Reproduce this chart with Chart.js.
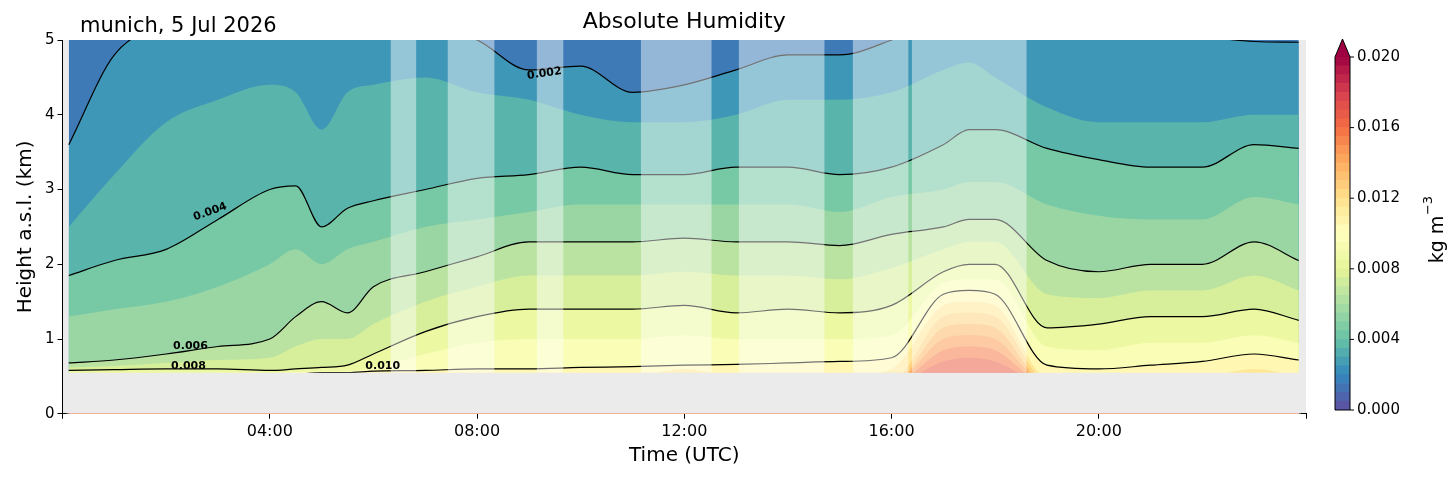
<!DOCTYPE html>
<html><head><meta charset="utf-8">
<script src="https://cdn.jsdelivr.net/npm/chart.js@4"></script>
<style>body{margin:0;background:#fff;font-family:"DejaVu Sans";}#a{position:absolute;left:0;top:0;width:1322px;height:478px}#b{position:absolute;left:1322px;top:0;width:132px;height:478px}</style>
</head><body><div id="a"><canvas id="c1"></canvas></div><div id="b"><canvas id="c2"></canvas></div>
<script>
const times = [0.12,1,2,3,4,4.5,5,5.5,6,7,8,9,10,11,12,13,14,15,16,17,17.5,18,19,20,21,22,23,23.86];
const L002 = [3.6,4.8,5.2,5.3,5.4,5.4,5.4,5.4,5.3,5.2,5.0,4.6,4.65,4.3,4.4,4.6,4.8,4.8,5.0,5.3,5.4,5.3,5.2,5.2,5.15,5.05,4.98,4.97];
const L003 = [2.5,3.2,3.9,4.2,4.4,4.3,3.8,4.3,4.4,4.5,4.3,4.2,4.0,3.9,3.9,4.0,4.2,4.2,4.3,4.6,4.7,4.5,4.1,3.9,3.9,3.9,4.0,4.0];
const L004 = [1.85,2.05,2.2,2.6,3.0,3.05,2.5,2.75,2.85,3.0,3.15,3.2,3.3,3.2,3.2,3.3,3.3,3.2,3.3,3.6,3.8,3.8,3.55,3.4,3.3,3.3,3.6,3.55];
const L005 = [1.3,1.4,1.5,1.7,2.0,2.2,2.0,2.2,2.3,2.5,2.6,2.7,2.8,2.8,2.8,2.8,2.8,2.7,2.9,3.0,3.1,3.1,2.8,2.65,2.6,2.6,2.9,2.8];
const L006 = [0.68,0.72,0.8,0.9,1.0,1.3,1.5,1.35,1.7,1.9,2.1,2.3,2.3,2.3,2.35,2.3,2.3,2.25,2.4,2.5,2.6,2.6,2.05,1.9,2.0,2.0,2.3,2.05];
const L007 = [0.62,0.64,0.68,0.72,0.75,0.9,1.0,1.0,1.2,1.5,1.7,1.85,1.85,1.85,1.9,1.85,1.85,1.8,1.95,2.2,2.3,2.3,1.6,1.55,1.65,1.65,1.85,1.65];
const L008 = [0.58,0.59,0.6,0.6,0.58,0.6,0.62,0.65,0.8,1.1,1.3,1.4,1.4,1.4,1.45,1.35,1.4,1.35,1.45,1.9,2.0,2.0,1.15,1.2,1.3,1.3,1.4,1.25];
const L009 = [0.5,0.5,0.52,0.55,0.55,0.56,0.57,0.57,0.62,0.8,0.95,1.0,1.0,1.0,1.05,1.0,1.0,1.0,1.05,1.75,1.8,1.8,0.9,0.85,0.95,0.95,1.05,0.95];
const L010 = [0.45,0.45,0.45,0.5,0.52,0.53,0.55,0.55,0.57,0.58,0.6,0.6,0.62,0.63,0.65,0.66,0.68,0.7,0.75,1.6,1.65,1.6,0.65,0.6,0.65,0.7,0.8,0.72];
const L011 = [0.5,0.5,0.5,0.5,0.5,0.5,0.5,0.5,0.5,0.5,0.5,0.5,0.5,0.5,0.6,0.5,0.5,0.5,0.6,1.45,1.5,1.45,0.5,0.5,0.5,0.5,0.6,0.5];
const L012 = [0.45,0.45,0.45,0.45,0.45,0.45,0.45,0.45,0.45,0.45,0.45,0.45,0.45,0.45,0.45,0.45,0.45,0.45,0.45,1.3,1.35,1.3,0.45,0.45,0.45,0.45,0.45,0.45];
const L013 = [0.4,0.4,0.4,0.4,0.4,0.4,0.4,0.4,0.4,0.4,0.4,0.4,0.4,0.4,0.4,0.4,0.4,0.4,0.4,1.15,1.2,1.15,0.4,0.4,0.4,0.4,0.4,0.4];
const L014 = [0.4,0.4,0.4,0.4,0.4,0.4,0.4,0.4,0.4,0.4,0.4,0.4,0.4,0.4,0.4,0.4,0.4,0.4,0.4,1.0,1.05,1.0,0.4,0.4,0.4,0.4,0.4,0.4];
const L015 = [0.4,0.4,0.4,0.4,0.4,0.4,0.4,0.4,0.4,0.4,0.4,0.4,0.4,0.4,0.4,0.4,0.4,0.4,0.4,0.85,0.9,0.85,0.4,0.4,0.4,0.4,0.4,0.4];
const L016 = [0.4,0.4,0.4,0.4,0.4,0.4,0.4,0.4,0.4,0.4,0.4,0.4,0.4,0.4,0.4,0.4,0.4,0.4,0.4,0.7,0.75,0.7,0.4,0.4,0.4,0.4,0.4,0.4];
const levelValues = [0.002,0.003,0.004,0.005,0.006,0.007,0.008,0.009,0.010,0.011,0.012,0.013,0.014,0.015,0.016];
const levelHeights = [L002,L003,L004,L005,L006,L007,L008,L009,L010,L011,L012,L013,L014,L015,L016];
const blackLevels = [0.002,0.004,0.006,0.008,0.010];
const gaps = [[6.33,6.83],[7.43,8.34],[9.15,9.67],[11.16,12.53],[13.05,14.71],[15.25,16.33],[16.39,18.61]];
const contourLabels = [
 {t:9.3,h:4.55,text:'0.002',rot:-8},{t:2.85,h:2.7,text:'0.004',rot:-20},
 {t:2.47,h:0.9,text:'0.006',rot:0},{t:2.43,h:0.64,text:'0.008',rot:0},{t:6.18,h:0.64,text:'0.010',rot:0}];
const xTicks = [4,8,12,16,20];
const cbTicks = [0,0.004,0.008,0.012,0.016,0.020];
const qMax = 0.020, bottomH = 0.55;

const spectral = ['#5e4fa2','#3288bd','#66c2a5','#abdda4','#e6f598','#ffffbf','#fee08b','#fdae61','#f46d43','#d53e4f','#9e0142'];
function hex(c){return [1,3,5].map(i=>parseInt(c.substr(i,2),16));}
function cmap(f){f=Math.max(0,Math.min(1,f));const p=f*10,i=Math.min(9,Math.floor(p)),r=p-i;
 const a=hex(spectral[i]),b=hex(spectral[i+1]);return 'rgb('+a.map((v,k)=>Math.round(v+(b[k]-v)*r)).join(',')+')';}
function bandColor(lo){return cmap((lo+0.0005)/qMax);}
const pts = arr => times.map((t,i)=>({x:t,y:arr[i]}));
const curve = {cubicInterpolationMode:'monotone',pointRadius:0};

const ds = [];
ds.push({data:[{x:times[0]-0.05,y:bottomH},{x:times[times.length-1]+0.05,y:bottomH}],fill:{target:{value:0}},backgroundColor:'#ebebeb',borderWidth:0,pointRadius:0,order:0});
gaps.forEach(g=>ds.push({data:[{x:g[0],y:5},{x:g[1],y:5}],fill:{target:{value:bottomH}},backgroundColor:'rgba(255,255,255,0.45)',borderWidth:0,pointRadius:0,order:1}));
blackLevels.forEach(l=>{const i=levelValues.findIndex(v=>Math.abs(v-l)<1e-9);
 ds.push(Object.assign({data:pts(levelHeights[i]),fill:false,borderColor:'#000',borderWidth:1.2,order:2},curve));});
for(let i=levelValues.length-1;i>=0;i--){
 ds.push(Object.assign({data:pts(levelHeights[i]),fill:'origin',backgroundColor:bandColor(levelValues[i]),borderWidth:0,order:100-i},curve));}
ds.push({data:[{x:times[0],y:6},{x:times[times.length-1],y:6}],fill:'origin',backgroundColor:bandColor(0.001),borderWidth:0,pointRadius:0,order:200});

const F='"DejaVu Sans"';
const bgPlugin={id:'bg',beforeDraw(c){const a=c.chartArea,x=c.ctx;x.save();x.fillStyle='#ebebeb';x.fillRect(a.left,a.top,a.right-a.left,a.bottom-a.top);x.restore();},
 afterDraw(c){const x=c.ctx,sx=c.scales.x,sy=c.scales.y;x.save();
  x.font='bold 11px '+F;x.fillStyle='#000';x.textAlign='center';x.textBaseline='middle';
  contourLabels.forEach(l=>{x.save();x.translate(sx.getPixelForValue(l.t),sy.getPixelForValue(l.h));x.rotate(l.rot*Math.PI/180);x.fillText(l.text,0,0);x.restore();});
  x.font='22px '+F;x.fillText('Absolute Humidity',(c.chartArea.left+c.chartArea.right)/2,22);
  x.textAlign='left';x.font='21px '+F;x.fillText('munich, 5 Jul 2026',80,27);x.restore();}};

const axGrid={drawOnChartArea:false,drawTicks:true,tickLength:5,color:'#000'};
new Chart(document.getElementById('c1'),{type:'line',data:{datasets:ds},plugins:[bgPlugin],
 options:{responsive:true,maintainAspectRatio:false,animation:false,layout:{padding:{top:40,right:16,left:10,bottom:10}},
  plugins:{legend:{display:false},tooltip:{enabled:false}},
  scales:{x:{type:'linear',min:0,max:24,grid:axGrid,border:{color:'#000'},
    afterBuildTicks:s=>{s.ticks=[0].concat(xTicks,[24]).map(v=>({value:v}));},
    ticks:{color:'#000',font:{size:16,family:'DejaVu Sans'},padding:3,maxRotation:0,callback:v=>xTicks.includes(v)?String(v).padStart(2,'0')+':00':''},
    title:{display:true,text:'Time (UTC)',color:'#000',font:{size:20,family:'DejaVu Sans'},padding:{top:0,bottom:0}}},
   y:{min:0,max:5,grid:axGrid,border:{color:'#000'},ticks:{stepSize:1,color:'#000',font:{size:15,family:'DejaVu Sans'}},
    title:{display:true,text:'Height a.s.l. (km)',color:'#000',font:{size:20,family:'DejaVu Sans'}}}}}});

const cbDs=[];for(let q=0;q<qMax-1e-9;q+=0.0005){const lo=+q.toFixed(4);cbDs.push({data:[[lo,lo+0.0005]],backgroundColor:cmap((lo+0.00025)/qMax),borderWidth:0,barPercentage:1,categoryPercentage:1,grouped:false});}
const cbPlugin={id:'cb',afterDraw(c){const a=c.chartArea,x=c.ctx,sy=c.scales.y;x.save();
 const mid=(a.left+a.right)/2;
 x.fillStyle=cmap(1);x.beginPath();x.moveTo(a.left,a.top);x.lineTo(a.right,a.top);x.lineTo(mid,a.top-18);x.closePath();x.fill();
 x.strokeStyle='#000';x.lineWidth=1;x.beginPath();x.moveTo(a.left,a.bottom);x.lineTo(a.left,a.top);x.lineTo(mid,a.top-18);x.lineTo(a.right,a.top);x.lineTo(a.right,a.bottom);x.closePath();x.stroke();
 x.fillStyle='#000';x.font='15px '+F;x.textAlign='left';x.textBaseline='middle';
 cbTicks.forEach(v=>{const y=sy.getPixelForValue(v);x.beginPath();x.moveTo(a.right,y);x.lineTo(a.right+4,y);x.stroke();x.fillText(v.toFixed(3),a.right+7,y);});
 x.save();x.translate(a.right+88,(a.top+a.bottom)/2);x.rotate(-Math.PI/2);x.textAlign='center';x.font='19px '+F;x.fillText('kg m',-6,0);x.font='13px '+F;x.fillText('−3',28,-9);x.restore();
 x.restore();}};
new Chart(document.getElementById('c2'),{type:'bar',data:{labels:[''],datasets:cbDs},plugins:[cbPlugin],
 options:{responsive:true,maintainAspectRatio:false,animation:false,layout:{padding:{top:57,left:13,right:104,bottom:68}},
  plugins:{legend:{display:false},tooltip:{enabled:false}},
  scales:{x:{display:false},y:{display:false,min:0,max:qMax}}}});
</script></body></html>
